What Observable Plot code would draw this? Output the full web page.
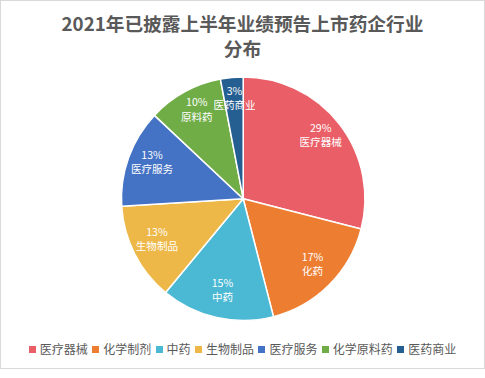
<!DOCTYPE html>
<html>
<head>
<meta charset="utf-8">
<script src="https://cdn.jsdelivr.net/npm/d3@7"></script>
<script src="https://cdn.jsdelivr.net/npm/@observablehq/plot@0.6"></script>
<style>
  html, body { margin: 0; padding: 0; background: #fff; }
  #frame {
    position: relative; width: 485px; height: 369px; box-sizing: border-box;
    border: 1px solid #D9D9D9; background: #fff; overflow: hidden;
    font-family: "Noto Sans CJK SC", "Noto Sans", sans-serif;
  }
  #title {
    position: absolute; left: 0; top: 9px; width: 100%; text-align: center;
    font-size: 18.7px; font-weight: bold; color: #595959; line-height: 25px;
  }
  #chart { position: absolute; left: -1px; top: 67px; }
  #legend {
    position: absolute; left: 0; top: 340px; width: 100%;
    display: flex; justify-content: center; align-items: center;
    font-size: 12px; color: #595959; line-height: 16px;
  }
  .item { display: flex; align-items: center; margin: 0 2.2px; }
  .sw { width: 7px; height: 7px; margin-right: 4px; }
</style>
</head>
<body>
<div id="frame">
  <div id="title">2021年已披露上半年业绩预告上市药企行业<br>分布</div>
  <div id="chart"></div>
  <div id="legend"></div>
</div>
<script>
const categories = ["医疗器械", "化学制剂", "中药", "生物制品", "医疗服务", "化学原料药", "医药商业"];
const shares = [29, 17, 15, 13, 13, 10, 3];
const sliceLabels = ["医疗器械", "化药", "中药", "生物制品", "医疗服务", "原料药", "医药商业"];
const palette = ["#EA5F67", "#ED7D31", "#4BB8D4", "#EEB848", "#4472C4", "#70AD47", "#255E91"];

const data = categories.map((c, i) => ({name: c, value: shares[i], label: shares[i] + "%\n" + sliceLabels[i]}));
const arcs = d3.pie().sort(null).value(d => d.value)(data);
const labelR = 0.8;
const labelData = arcs.map(a => {
  const m = (a.startAngle + a.endAngle) / 2;
  return {x: labelR * Math.sin(m), y: labelR * Math.cos(m), text: a.data.label};
});

const W = 485, H = 262, R = 122, cx = 243.7, cy = 131;

function pieMark(index, scales) {
  const x = scales.x, y = scales.y, color = scales.color;
  const ox = x(0), oy = y(0), rad = x(1) - x(0);
  const arcGen = d3.arc().innerRadius(0).outerRadius(rad);
  const g = d3.create("svg:g").attr("transform", `translate(${ox},${oy})`);
  g.selectAll("path").data(arcs).join("path")
    .attr("d", arcGen)
    .attr("fill", d => color(d.data.name))
    .attr("stroke", "#fff")
    .attr("stroke-width", 1.5)
    .attr("stroke-linejoin", "round");
  return g.node();
}

const plot = Plot.plot({
  width: W, height: H, margin: 0,
  x: {domain: [-1, 1], range: [cx - R, cx + R], axis: null},
  y: {domain: [-1, 1], range: [cy + R, cy - R], axis: null},
  color: {domain: categories, range: palette},
  style: {background: "transparent", fontFamily: "'Noto Sans CJK SC', sans-serif"},
  marks: [
    Plot.dot(data, {x: () => 0, y: () => 0, r: 0, fill: "name"}),
    pieMark,
    Plot.text(labelData, {x: "x", y: "y", text: "text", fill: "#fff", fontSize: 10.6, lineHeight: 1.35, dy: -5})
  ]
});
document.getElementById("chart").appendChild(plot);

const cs = plot.scale("color");
const leg = document.getElementById("legend");
cs.domain.forEach((name, i) => {
  const it = document.createElement("div"); it.className = "item";
  const sw = document.createElement("div"); sw.className = "sw"; sw.style.background = cs.range[i];
  const tx = document.createElement("span"); tx.textContent = name;
  it.appendChild(sw); it.appendChild(tx); leg.appendChild(it);
});
</script>
</body>
</html>
